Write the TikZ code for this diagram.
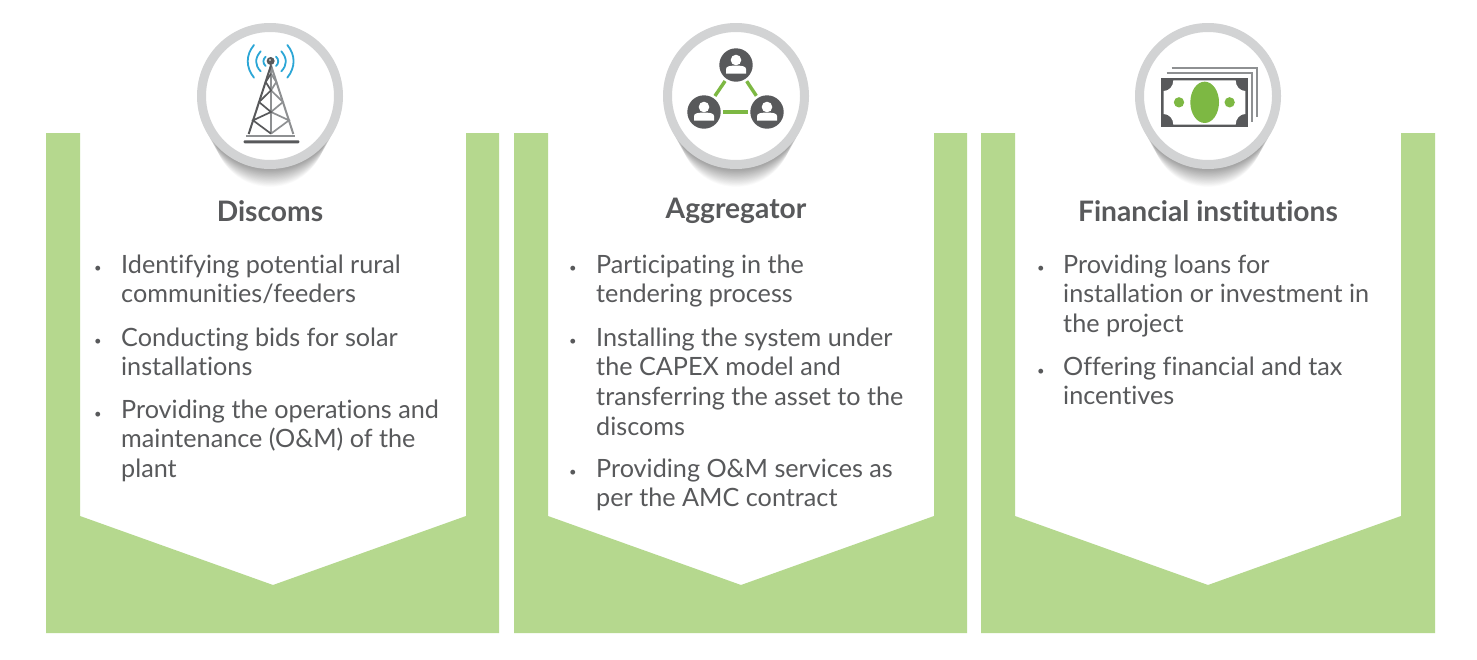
\documentclass[tikz,border=0pt]{standalone}
\usepackage{fontspec}
\setmainfont{Lato}[Ligatures=NoCommon]
\usetikzlibrary{calc}
\definecolor{panelgreen}{HTML}{B5D88E}
\definecolor{ringgrey}{HTML}{D2D3D4}
\definecolor{textgrey}{HTML}{58595B}
\definecolor{icongrey}{HTML}{58595B}
\definecolor{strutgrey}{HTML}{8E9092}
\definecolor{icongreen}{HTML}{7DB843}
\definecolor{waveblue}{HTML}{2BA6D6}
\tikzset{
  panel/.style={fill=panelgreen,draw=none},
  ring/.style={circle,draw=ringgrey,line width=9pt,fill=white,minimum size=137pt,inner sep=0pt},
  titletext/.style={text=textgrey,inner sep=0pt,anchor=base,font=\fontsize{28.2}{32}\selectfont\bfseries},
  itemtext/.style={text=textgrey,inner sep=0pt,anchor=north west,align=left,font=\fontsize{25.2}{29.7}\selectfont},
  bullettext/.style={text=textgrey,inner sep=0pt,anchor=base,font=\fontsize{13}{15}\selectfont},
  wave/.style={draw=waveblue,line width=1.8pt,line cap=round},
  leg/.style={draw=icongrey,line width=2pt},
  mast/.style={draw=strutgrey,line width=2pt},
  link/.style={draw=icongreen,line width=3.4pt,shorten >=2.5pt,shorten <=2.5pt},
  persondisc/.style={circle,fill=icongrey,minimum size=33.4pt,inner sep=0pt},
}
\newcommand{\shadowstack}[1]{%
  \foreach \i in {0,...,31}{
    \fill[black,opacity=0.0115] ({#1},{169+0.58*\i-(73-0.55*\i)}) circle ({73-0.55*\i});
  }}
\newcommand{\firstline}{\rule{0pt}{20pt}}
\newcommand{\personicon}[1]{%
  \fill[white] ([yshift=5pt]#1.center) circle (5.3);
  \fill[white] ([xshift=-10pt,yshift=-8.5pt]#1.center) -- ([xshift=-10pt,yshift=-4pt]#1.center)
     .. controls ([xshift=-10pt,yshift=-1pt]#1.center) and ([xshift=-5pt,yshift=-0.6pt]#1.center) .. ([yshift=-0.6pt]#1.center)
     .. controls ([xshift=5pt,yshift=-0.6pt]#1.center) and ([xshift=10pt,yshift=-1pt]#1.center) .. ([xshift=10pt,yshift=-4pt]#1.center)
     -- ([xshift=10pt,yshift=-8.5pt]#1.center) -- cycle;}
\begin{document}
\begin{tikzpicture}[x=1pt,y=-1pt]
\useasboundingbox (0,0) rectangle (1477,659);
\fill[white] (0,0) rectangle (1477,659);
% panels
\fill[panel] (46,133) -- (80,133) -- (80,516) -- (273,585) -- (466,516) -- (466,133) -- (499,133) -- (499,633) -- (46,633) -- cycle;
\fill[panel] (514,133) -- (548,133) -- (548,516) -- (741,585) -- (934,516) -- (934,133) -- (967,133) -- (967,633) -- (514,633) -- cycle;
\fill[panel] (981,133) -- (1015,133) -- (1015,516) -- (1208,585) -- (1401,516) -- (1401,133) -- (1435,133) -- (1435,633) -- (981,633) -- cycle;
% shadows and rings
\shadowstack{270}
\shadowstack{736}
\shadowstack{1208}
\node[ring] (ringa) at (270,96) {};
\node[ring] (ringb) at (736,96) {};
\node[ring] (ringc) at (1208,96) {};
% tower icon: waves
\begin{scope}[shift={(180,10)},x=0.3333pt,y=-0.3333pt]
  \draw[wave] (222,105) .. controls (197,135) and (197,172) .. (222,203);
  \draw[wave] (242,124) .. controls (224,145) and (224,165) .. (242,184);
  \draw[wave] (257,140) .. controls (248,148) and (248,160) .. (257,168);
  \draw[wave] (322,105) .. controls (347,135) and (347,172) .. (322,203);
  \draw[wave] (304,124) .. controls (322,145) and (322,165) .. (304,184);
  \draw[wave] (288,140) .. controls (297,148) and (297,160) .. (288,168);
  \fill[icongrey] (272,153) circle (12);
  \fill[white] (270,150) circle (2.5);
\end{scope}
% tower icon: lattice
\begin{scope}[shift={(242,62)},x=0.3333pt,y=-0.3333pt]
  \draw[mast,line width=1.7pt] (87,35) -- (103,60) -- (87,85) -- (123,120) -- (87,150) -- (141,175) -- (87,215);
  \draw[mast] (87,10) -- (87,216);
  \draw[mast] (87,10) -- (154,216);
  \draw[leg,line width=1.7pt] (87,35) -- (71,60) -- (87,85) -- (51,120) -- (87,150) -- (33,175) -- (87,215);
  \draw[leg] (87,10) -- (20,216);
  \fill[strutgrey] (13,218) rectangle (160,225);
  \fill[icongrey] (5,235) [rounded corners=1pt] rectangle (172,244);
\end{scope}
% network icon
\node[persondisc] (pa) at (736,65) {};
\node[persondisc] (pb) at (704,112) {};
\node[persondisc] (pc) at (767,112) {};
\draw[link] (pa) -- (pb);
\draw[link] (pa) -- (pc);
\draw[link] (pb) -- (pc);
\personicon{pa}
\personicon{pb}
\personicon{pc}
% money icon
\begin{scope}[shift={(1120,10)},x=0.3333pt,y=-0.3333pt]
  \draw[strutgrey,line width=2pt] (155,175) -- (411,175) -- (411,320);
  \draw[strutgrey,line width=2pt] (140,190) -- (395,190) -- (395,335);
  \fill[icongrey] (124,204) rectangle (383,351);
  \fill[white] (160,211) .. controls (160,228) and (148,243) .. (131,243)
     -- (131,312) .. controls (148,312) and (160,327) .. (160,344)
     -- (347,344) .. controls (347,327) and (359,312) .. (376,312)
     -- (376,243) .. controls (359,243) and (347,228) .. (347,211) -- cycle;
  \fill[icongreen] (254,277) ellipse [x radius=43,y radius=62];
  \fill[icongreen] (177,277) circle (15.5);
  \fill[icongreen] (329,277) circle (15.5);
\end{scope}
% titles
\node[titletext] (ta) at (270,221) {Discoms};
\node[titletext] (tb) at (736,218) {Aggregator};
\node[titletext] (tc) at (1208,221) {Financial institutions};
% column one
\node[bullettext] (ba1) at (98,272) {•};
\node[itemtext] (ia1) at (121,253) {\firstline Identifying potential rural\\communities/feeders};
\node[bullettext] (ba2) at (98,345) {•};
\node[itemtext] (ia2) at (121,326) {\firstline Conducting bids for solar\\installations};
\node[bullettext] (ba3) at (98,418) {•};
\node[itemtext] (ia3) at (121,398) {\firstline Providing the operations and\\maintenance (O\&M) of the\\plant};
% column two
\node[bullettext] (bb1) at (573,272) {•};
\node[itemtext] (ib1) at (596,253) {\firstline Participating in the\\tendering process};
\node[bullettext] (bb2) at (573,345) {•};
\node[itemtext] (ib2) at (596,326) {\firstline Installing the system under\\the CAPEX model and\\transferring the asset to the\\discoms};
\node[bullettext] (bb3) at (573,476) {•};
\node[itemtext] (ib3) at (596,457) {\firstline Providing O\&M services as\\per the AMC contract};
% column three
\node[bullettext] (bc1) at (1041,272) {•};
\node[itemtext] (ic1) at (1063,253) {\firstline Providing loans for\\installation or investment in\\the project};
\node[bullettext] (bc2) at (1041,375) {•};
\node[itemtext] (ic2) at (1063,355) {\firstline Offering financial and tax\\incentives};
\end{tikzpicture}
\end{document}
